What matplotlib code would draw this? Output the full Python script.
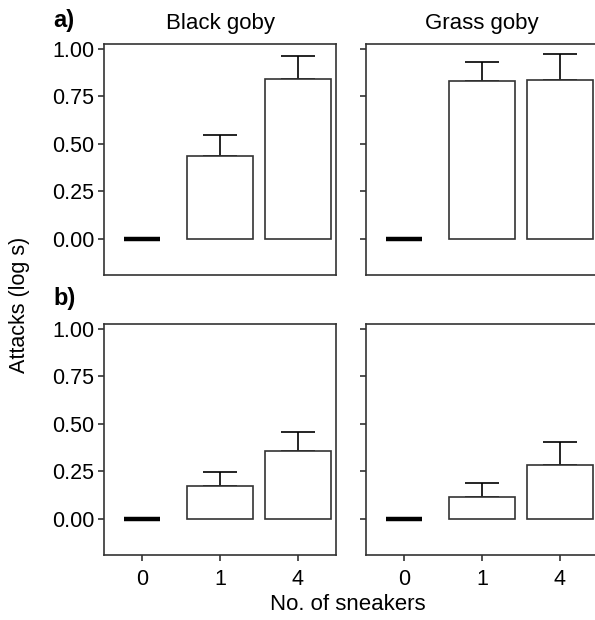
import matplotlib
matplotlib.use("Agg")
import matplotlib.pyplot as plt

plt.rcParams["font.family"] = ["Liberation Sans", "DejaVu Sans"]

# data
sneakers = ["0", "1", "4"]
species = ["Black goby", "Grass goby"]
panel_labels = ["a)", "b)"]

# a) row
black_a = [0.0, 0.435, 0.844]
black_a_err = [0.0, 0.114, 0.121]
grass_a = [0.0, 0.830, 0.835]
grass_a_err = [0.0, 0.100, 0.137]

# b) row
black_b = [0.0, 0.172, 0.360]
black_b_err = [0.0, 0.076, 0.097]
grass_b = [0.0, 0.116, 0.283]
grass_b_err = [0.0, 0.075, 0.121]

rows = [
    [(black_a, black_a_err), (grass_a, grass_a_err)],
    [(black_b, black_b_err), (grass_b, grass_b_err)],
]

yticks = [0.0, 0.25, 0.50, 0.75, 1.00]
ytick_labels = ["0.00", "0.25", "0.50", "0.75", "1.00"]

fig = plt.figure(figsize=(5.95, 6.2), dpi=100)

W, H = 595.0, 620.0
lefts = [104, 366]
tops = [44, 324]
aw, ah = 232, 231
edge = "#333333"

for r in range(2):
    for c in range(2):
        ax = fig.add_axes([lefts[c] / W, 1 - (tops[r] + ah) / H, aw / W, ah / H])
        means, errs = rows[r][c]
        x = list(range(len(sneakers)))
        # zero bars drawn as a thick segment
        for i, (m, e) in enumerate(zip(means, errs)):
            if m == 0:
                ax.hlines(m, i - 0.23, i + 0.23, color="black", lw=3.2, zorder=3)
            else:
                ax.bar(i, m, width=0.85, facecolor="white", edgecolor=edge,
                       linewidth=1.2, zorder=2)
                ax.errorbar(i, m, yerr=[[0], [e]], fmt="none", ecolor="black",
                            elinewidth=1.2, capsize=12, capthick=1.2, zorder=1)
        ax.set_xlim(-0.49, 2.49)
        ax.set_ylim(-0.19, 1.026)
        ax.set_yticks(yticks)
        ax.set_xticks(x)
        for s in ax.spines.values():
            s.set_color(edge)
            s.set_linewidth(1.2)
        ax.tick_params(direction="out", length=4, width=1.2, color=edge,
                       labelsize=15.5, pad=3)
        ax.tick_params(axis="x", pad=6)
        if c == 0:
            ax.set_yticklabels(ytick_labels)
        else:
            ax.set_yticklabels([])
        if r == 1:
            ax.set_xticklabels(sneakers)
        else:
            ax.tick_params(axis="x", length=0, labelbottom=False)
        if r == 0:
            ax.set_title(species[c], fontsize=16, pad=11)

fig.text(53 / W, 1 - 20 / H, panel_labels[0], fontsize=17, fontweight="bold",
         va="center", ha="left")
fig.text(53 / W, 1 - 298 / H, panel_labels[1], fontsize=17, fontweight="bold",
         va="center", ha="left")
fig.text(20 / W, 1 - 305 / H, "Attacks (log s)", fontsize=15.5, rotation=90,
         va="center", ha="center")
fig.text(348 / W, 1 - 605 / H, "No. of sneakers", fontsize=16,
         va="center", ha="center")

fig.savefig("out.png", dpi=100)
